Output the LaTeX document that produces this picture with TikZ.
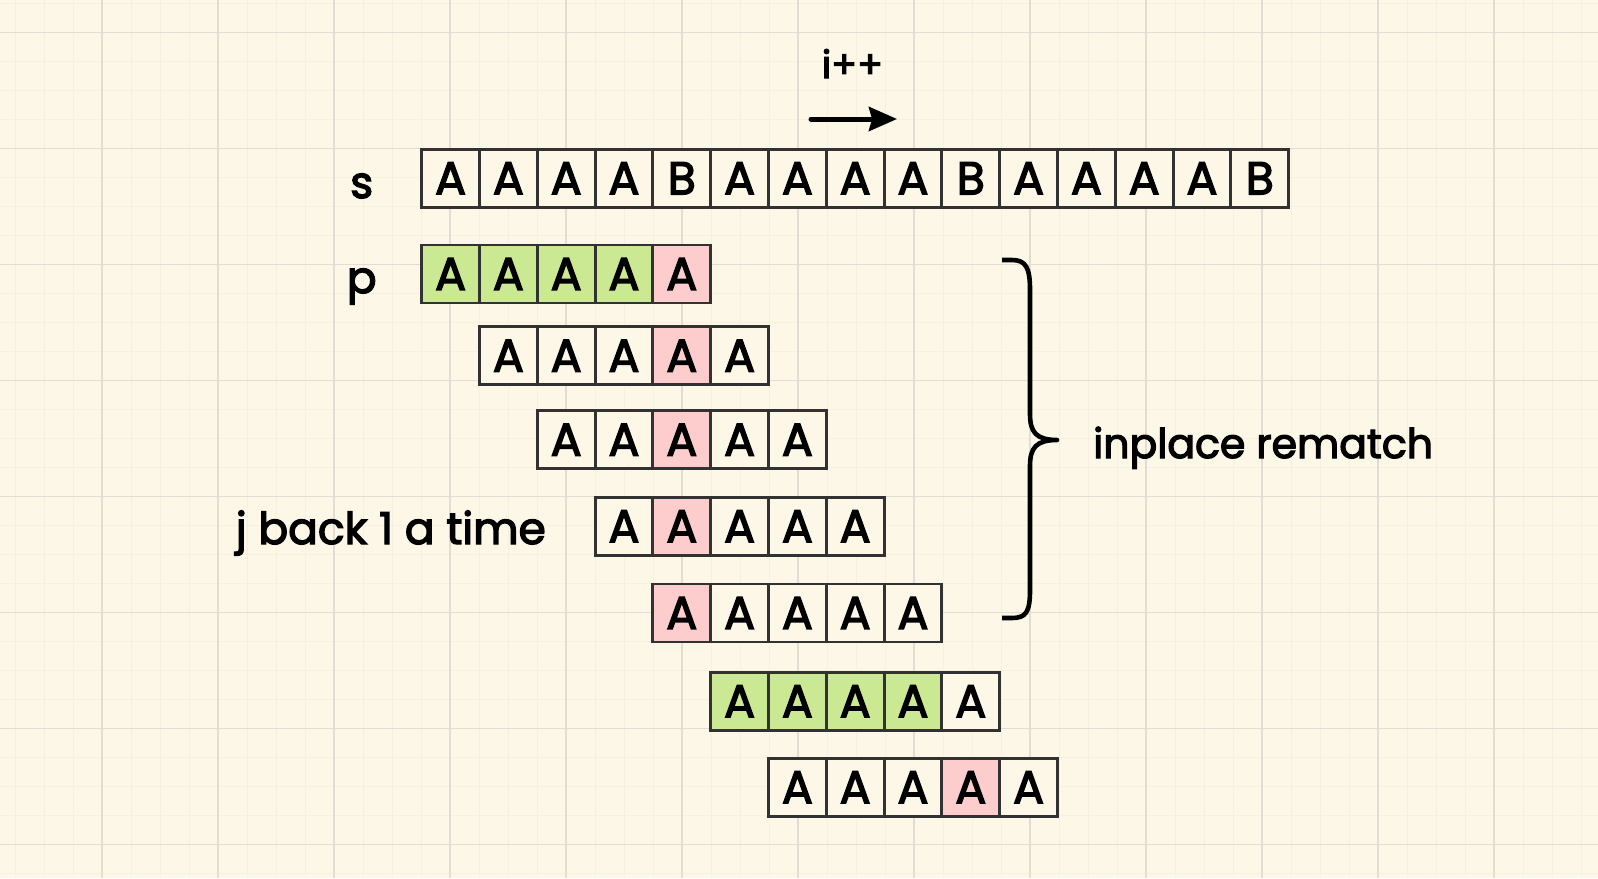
\documentclass[tikz,border=0pt]{standalone}
\usepackage{fontspec}
\setmainfont{Poppins}[FakeBold=3]
\usetikzlibrary{arrows.meta}
\definecolor{bgc}{RGB}{253,247,231}
\definecolor{minorc}{RGB}{247,240,221}
\definecolor{majorc}{RGB}{226,220,212}
\definecolor{gc}{RGB}{203,232,146}
\definecolor{pc}{RGB}{253,205,205}
\definecolor{linec}{RGB}{50,50,50}
\tikzset{
  cell/.style={draw=linec, line width=2.9pt, minimum width=57.8pt, minimum height=58pt,
    inner sep=0pt, font=\fontsize{46}{50}\selectfont, text=black},
  lbl/.style={inner sep=0pt, font=\fontsize{44}{50}\selectfont, text=black},
  minorline/.style={draw=minorc, line width=1pt},
  majorline/.style={draw=majorc, line width=1.5pt},
}
\newcommand\cellrow[4]{%
  \foreach \L/\F [count=\k from 0] in {#4} {
    \node[cell, fill=\F] (#1-\k) at ({#2+28.9+57.8*\k},#3) {\L};
  }}
\begin{document}
\begin{tikzpicture}[x=1pt,y=-1pt]
\fill[bgc] (0,0) rectangle (1598,878);
\useasboundingbox (0,0) rectangle (1598,878);
% grid
\foreach \i in {0,...,55} { \draw[minorline] ({15+29*\i},0) -- ({15+29*\i},878); }
\foreach \i in {0,...,30} { \draw[minorline] (0,{3.3+29*\i}) -- (1598,{3.3+29*\i}); }
\foreach \i in {0,...,12} { \draw[majorline] ({102+116*\i},0) -- ({102+116*\i},878); }
\foreach \i in {0,...,7} { \draw[majorline] (0,{32.3+116*\i}) -- (1598,{32.3+116*\i}); }
% rows
\cellrow{s}{421.7}{178.3}{A/bgc,A/bgc,A/bgc,A/bgc,B/bgc,A/bgc,A/bgc,A/bgc,A/bgc,B/bgc,A/bgc,A/bgc,A/bgc,A/bgc,B/bgc}
\cellrow{pa}{421.7}{274}{A/gc,A/gc,A/gc,A/gc,A/pc}
\cellrow{pb}{479.5}{355.7}{A/bgc,A/bgc,A/bgc,A/pc,A/bgc}
\cellrow{pc}{537.3}{439.7}{A/bgc,A/bgc,A/pc,A/bgc,A/bgc}
\cellrow{pd}{595.1}{526.3}{A/bgc,A/pc,A/bgc,A/bgc,A/bgc}
\cellrow{pe}{652.9}{613}{A/pc,A/bgc,A/bgc,A/bgc,A/bgc}
\cellrow{pf}{710.7}{701.3}{A/gc,A/gc,A/gc,A/gc,A/bgc}
\cellrow{pg}{768.5}{787.3}{A/bgc,A/bgc,A/bgc,A/pc,A/bgc}
% labels
\node[lbl, anchor=base] (slbl) at (361.7,198) {s};
\node[lbl, anchor=base] (plbl) at (361.7,293) {p};
\node[lbl, anchor=base east] (jlbl) at (546,544) {j back 1 a time};
\node[lbl, anchor=base west, font=\fontsize{41}{50}\selectfont] (rlbl) at (1093,458) {inplace rematch};
\node[lbl, anchor=base, font=\fontsize{38}{40}\selectfont] (ilbl) at (852.5,78) {i++};
% arrow
\coordinate (ia) at (811,119);
\coordinate (ib) at (897,119);
\draw[line width=5pt, line cap=round, -{Stealth[length=28pt,width=24pt,inset=3pt]}] (ia) -- (ib);
% brace
\draw[line width=4.6pt, line join=round]
  (1002,260) -- (1012,260) .. controls (1026,260) and (1030,268) .. (1030,290)
  -- (1030,414) .. controls (1030,432) and (1036,440) .. (1057,440)
  .. controls (1036,440) and (1030,448) .. (1030,466)
  -- (1030,590) .. controls (1030,612) and (1026,618) .. (1012,618) -- (1002,618);
\end{tikzpicture}
\end{document}
